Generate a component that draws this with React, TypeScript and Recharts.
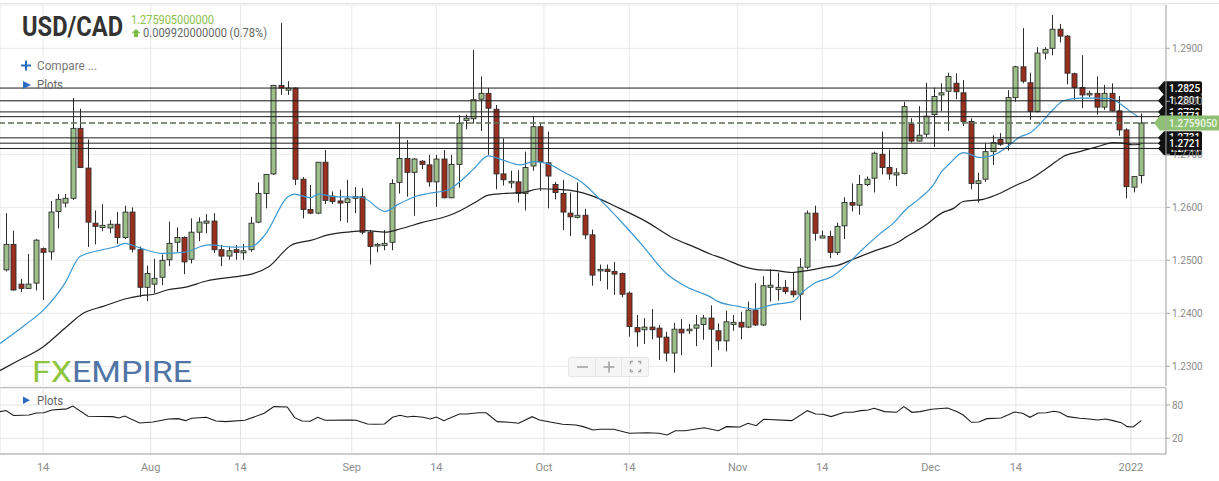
import React from 'react';
import { ComposedChart, LineChart, Bar, Line, XAxis, YAxis, CartesianGrid, ReferenceLine } from 'recharts';

// ---------- DATA ----------
const opens = [
  1.2482,1.2530,1.2455,1.2447,1.2457,1.2522,1.2516,1.2592,1.2608,1.2617,
  1.2749,1.2674,1.2570,1.2562,1.2561,1.2568,1.2543,1.2591,1.2520,1.2449,
  1.2455,1.2468,1.2501,1.2534,1.2543,1.2502,1.2553,1.2570,1.2574,1.2520,
  1.2508,1.2520,1.2514,1.2520,1.2572,1.2626,1.2663,1.2830,1.2821,1.2825,
  1.2653,1.2596,1.2589,1.2685,1.2621,1.2612,1.2609,1.2617,1.2620,1.2553,
  1.2527,1.2528,1.2534,1.2647,1.2692,1.2666,1.2687,1.2680,1.2648,1.2691,
  1.2618,1.2681,1.2764,1.2767,1.2804,1.2815,1.2785,1.2663,1.2646,1.2648,
  1.2626,1.2678,1.2752,1.2684,1.2643,1.2626,1.2589,1.2581,1.2585,1.2548,
  1.2480,1.2483,1.2479,1.2475,1.2438,1.2373,1.2369,1.2374,1.2372,1.2355,
  1.2325,1.2370,1.2367,1.2372,1.2379,1.2391,1.2367,1.2348,1.2379,1.2383,
  1.2374,1.2406,1.2378,1.2449,1.2445,1.2449,1.2442,1.2436,1.2487,1.2589,
  1.2542,1.2545,1.2515,1.2565,1.2609,1.2604,1.2643,1.2655,1.2700,1.2675,
  1.2661,1.2664,1.2757,1.2725,1.2738,1.2775,1.2812,1.2819,1.2834,1.2816,
  1.2762,1.2645,1.2653,1.2705,1.2728,1.2721,1.2807,1.2865,1.2835,1.2781,
  1.2891,1.2900,1.2936,1.2923,1.2852,1.2826,1.2812,1.2815,1.2789,1.2815,
  1.2782,1.2746,1.2638,1.2660,
];
const highs = [
  1.2589,1.2556,1.2465,1.2512,1.2540,1.2524,1.2612,1.2625,1.2625,1.2806,
  1.2786,1.2728,1.2594,1.2606,1.2576,1.2591,1.2603,1.2600,1.2526,1.2490,
  1.2503,1.2511,1.2573,1.2562,1.2545,1.2579,1.2581,1.2587,1.2589,1.2529,
  1.2526,1.2529,1.2531,1.2582,1.2647,1.2663,1.2831,1.2948,1.2838,1.2826,
  1.2657,1.2642,1.2685,1.2708,1.2630,1.2633,1.2652,1.2638,1.2636,1.2557,
  1.2533,1.2557,1.2653,1.2760,1.2727,1.2693,1.2689,1.2699,1.2699,1.2708,
  1.2699,1.2774,1.2775,1.2897,1.2847,1.2825,1.2793,1.2730,1.2669,1.2670,
  1.2705,1.2772,1.2758,1.2743,1.2648,1.2652,1.2628,1.2647,1.2597,1.2558,
  1.2492,1.2492,1.2497,1.2477,1.2441,1.2397,1.2391,1.2408,1.2378,1.2365,
  1.2382,1.2389,1.2380,1.2397,1.2397,1.2415,1.2381,1.2405,1.2397,1.2403,
  1.2422,1.2457,1.2470,1.2483,1.2477,1.2463,1.2477,1.2504,1.2594,1.2603,
  1.2556,1.2556,1.2571,1.2619,1.2645,1.2661,1.2658,1.2705,1.2743,1.2709,
  1.2674,1.2799,1.2768,1.2791,1.2835,1.2826,1.2834,1.2854,1.2853,1.2840,
  1.2768,1.2665,1.2721,1.2736,1.2740,1.2821,1.2867,1.2938,1.2854,1.2902,
  1.2902,1.2963,1.2946,1.2925,1.2854,1.2887,1.2820,1.2847,1.2831,1.2834,
  1.2810,1.2749,1.2658,1.2777,
];
const lows = [
  1.2479,1.2443,1.2440,1.2447,1.2443,1.2425,1.2501,1.2560,1.2600,1.2614,
  1.2674,1.2525,1.2530,1.2555,1.2551,1.2531,1.2540,1.2515,1.2431,1.2423,
  1.2438,1.2453,1.2489,1.2516,1.2474,1.2494,1.2536,1.2551,1.2514,1.2489,
  1.2501,1.2501,1.2501,1.2516,1.2570,1.2598,1.2661,1.2812,1.2812,1.2642,
  1.2579,1.2587,1.2587,1.2606,1.2606,1.2574,1.2571,1.2589,1.2549,1.2492,
  1.2515,1.2519,1.2519,1.2626,1.2620,1.2584,1.2672,1.2639,1.2601,1.2617,
  1.2617,1.2637,1.2747,1.2758,1.2744,1.2699,1.2634,1.2641,1.2636,1.2609,
  1.2594,1.2669,1.2631,1.2598,1.2615,1.2557,1.2546,1.2579,1.2540,1.2452,
  1.2461,1.2445,1.2435,1.2430,1.2356,1.2337,1.2342,1.2351,1.2312,1.2309,
  1.2288,1.2321,1.2361,1.2338,1.2350,1.2299,1.2331,1.2328,1.2367,1.2351,
  1.2372,1.2376,1.2376,1.2422,1.2424,1.2436,1.2430,1.2387,1.2483,1.2537,
  1.2542,1.2504,1.2510,1.2540,1.2592,1.2586,1.2640,1.2628,1.2662,1.2652,
  1.2640,1.2662,1.2722,1.2724,1.2733,1.2714,1.2781,1.2744,1.2804,1.2753,
  1.2634,1.2609,1.2648,1.2680,1.2716,1.2707,1.2799,1.2834,1.2765,1.2779,
  1.2879,1.2887,1.2911,1.2832,1.2803,1.2787,1.2808,1.2775,1.2784,1.2781,
  1.2735,1.2617,1.2628,1.2645,
];
const closes = [
  1.2530,1.2444,1.2447,1.2455,1.2538,1.2515,1.2591,1.2615,1.2617,1.2749,
  1.2675,1.2572,1.2564,1.2566,1.2568,1.2543,1.2591,1.2521,1.2449,1.2475,
  1.2466,1.2500,1.2532,1.2543,1.2497,1.2553,1.2572,1.2574,1.2520,1.2508,
  1.2518,1.2515,1.2518,1.2570,1.2626,1.2662,1.2830,1.2825,1.2825,1.2653,
  1.2596,1.2589,1.2685,1.2613,1.2611,1.2608,1.2616,1.2620,1.2553,1.2526,
  1.2530,1.2532,1.2645,1.2692,1.2666,1.2691,1.2681,1.2648,1.2691,1.2618,
  1.2681,1.2758,1.2768,1.2803,1.2815,1.2787,1.2663,1.2652,1.2649,1.2626,
  1.2675,1.2752,1.2686,1.2659,1.2628,1.2591,1.2582,1.2585,1.2548,1.2472,
  1.2483,1.2479,1.2474,1.2436,1.2375,1.2365,1.2374,1.2369,1.2355,1.2325,
  1.2370,1.2363,1.2370,1.2378,1.2391,1.2370,1.2348,1.2384,1.2383,1.2374,
  1.2406,1.2378,1.2452,1.2453,1.2449,1.2441,1.2435,1.2487,1.2589,1.2551,
  1.2546,1.2515,1.2564,1.2609,1.2604,1.2643,1.2653,1.2702,1.2675,1.2663,
  1.2665,1.2790,1.2725,1.2736,1.2772,1.2809,1.2816,1.2847,1.2818,1.2762,
  1.2645,1.2650,1.2705,1.2722,1.2719,1.2807,1.2865,1.2838,1.2781,1.2891,
  1.2898,1.2936,1.2923,1.2853,1.2826,1.2812,1.2815,1.2789,1.2815,1.2782,
  1.2746,1.2639,1.2658,1.2759,
];

// moving averages: [candle index, value]
const maFastPoints: [number, number][] = [
  [-0.81,1.2343],[2.56,1.2378],[5.03,1.2406],[7.95,1.2457],[9.97,1.2507],[12.7,1.2519],[14.9,1.2526],
  [16.0,1.2532],[18.1,1.2523],[21.0,1.2513],[23.9,1.2515],[27.3,1.2529],[30.6,1.2525],[33.1,1.2526],
  [34.9,1.2548],[38.0,1.2620],[38.9,1.2625],[41.0,1.2618],[42.1,1.2625],[44.3,1.2620],[47.9,1.2619],
  [51.1,1.2592],[52.9,1.2606],[55.1,1.2620],[56.9,1.2626],[59.6,1.2633],[61.4,1.2651],[63.0,1.2672],
  [65.0,1.2697],[67.0,1.2689],[69.3,1.2680],[71.1,1.2686],[72.9,1.2683],[75.1,1.2667],[77.8,1.2645],
  [80.1,1.2614],[82.7,1.2576],[85.9,1.2526],[89.0,1.2475],[91.7,1.2450],[94.9,1.2431],[96.0,1.2422],
  [98.7,1.2413],[100.9,1.2408],[103.2,1.2416],[106.1,1.2422],[107.2,1.2438],[109.0,1.2457],[111.3,1.2469],
  [113.5,1.2494],[115.3,1.2519],[117.6,1.2548],[119.8,1.2573],[121.2,1.2595],[122.9,1.2614],[124.8,1.2639],
  [126.2,1.2669],[127.2,1.2683],[129.0,1.2703],[131.3,1.2694],[133.5,1.2701],[134.9,1.2714],[136.7,1.2733],
  [138.0,1.2740],[139.4,1.2758],[141.1,1.2784],[142.5,1.2801],[144.7,1.2806],[147.0,1.2806],[148.8,1.2805],
  [150.1,1.2796],[151.5,1.2781],[152.6,1.2771],
];
const maSlowPoints: [number, number][] = [
  [-0.81,1.2292],[1.44,1.2309],[5.03,1.2337],[8.2,1.2375],[10.4,1.2400],[13.1,1.2413],[16.3,1.2428],
  [18.1,1.2433],[19.9,1.2436],[21.7,1.2444],[24.4,1.2450],[27.0,1.2461],[31.5,1.2470],[33.1,1.2474],
  [35.4,1.2488],[38.5,1.2529],[41.2,1.2538],[43.4,1.2548],[46.6,1.2554],[48.5,1.2556],[51.1,1.2553],
  [53.3,1.2560],[56.0,1.2571],[59.6,1.2584],[61.4,1.2595],[63.2,1.2609],[65.0,1.2623],[67.0,1.2626],
  [69.7,1.2628],[72.0,1.2635],[74.2,1.2634],[76.9,1.2630],[78.7,1.2623],[82.7,1.2598],[86.3,1.2573],
  [89.5,1.2545],[93.1,1.2523],[94.9,1.2512],[96.9,1.2502],[99.2,1.2489],[101.4,1.2482],[103.5,1.2481],
  [105.9,1.2477],[107.7,1.2480],[110.4,1.2487],[112.2,1.2491],[114.0,1.2501],[116.7,1.2516],[120.3,1.2535],
  [121.2,1.2543],[123.8,1.2565],[126.2,1.2590],[127.7,1.2598],[129.0,1.2611],[131.7,1.2615],[133.9,1.2626],
  [136.2,1.2642],[138.0,1.2653],[140.7,1.2678],[142.5,1.2696],[144.7,1.2705],[147.0,1.2714],[149.2,1.2722],
  [150.5,1.2721],[151.8,1.2718],[152.9,1.2719],
];
// RSI sub-panel: [candle index, value]
const rsiPoints: [number, number][] = [
  [-0.8,68],[0,70],[1.0,61],[3.1,62],[4.1,65.6],[5.1,66],[6.2,71],[8.2,73],[9.0,78],[11.05,59.6],
  [14.4,59],[15.2,56.6],[16.0,60],[18.0,47.6],[19.8,49.4],[21.9,54.8],[23.2,55.4],[24.2,51.8],[25.0,56],
  [27.0,57.8],[28.3,51.2],[29.6,50],[32.2,52.4],[34.8,65],[36.1,77],[37.9,76.4],[38.9,57.2],[39.9,51.2],
  [41.0,50.6],[42.0,57.8],[43.0,52.4],[46.6,53],[47.2,52.4],[48.7,45.8],[49.7,45.2],[51.0,45.8],[52.1,57.8],
  [53.1,61.4],[54.1,58.4],[54.9,59.6],[56.2,57.8],[57.2,54.8],[58.0,58.4],[59.0,51.8],[61.1,63.8],[62.1,63.8],
  [63.7,66],[64.7,66],[66.2,50],[67.8,48.8],[69.1,47],[70.9,59],[71.9,53],[73.5,48.8],[75.0,45.2],[76.8,44],
  [77.8,41],[79.1,35],[80.1,36.2],[81.9,36.2],[84.0,29],[86.4,30.1],[88.0,29],[89.1,26],[90.2,33.7],
  [91.5,33.7],[94.1,39.1],[96.0,33.7],[97.1,41],[98.9,40.4],[100.0,47],[101.1,42.7],[102.1,54.2],
  [105.9,51.8],[108.0,69.8],[109.1,63.8],[110.1,63.2],[111.2,59],[113.0,66.8],[114.1,66.8],[115.2,69.8],
  [116.2,71],[117.0,74],[118.4,68],[120.0,66.8],[121.0,77],[122.1,66.8],[123.2,68],[124.7,72.2],[126.9,74.6],
  [128.2,68],[129.0,62],[130.1,48.8],[131.1,49.4],[132.2,55.4],[134.1,56.6],[135.9,67.4],[137.0,65],
  [138.0,57.8],[139.1,65.6],[140.2,66.1],[141.2,68.6],[142.0,66.8],[143.1,59],[144.7,56],[146.0,54.8],
  [147.1,53],[148.2,54.8],[149.2,51.8],[150.3,48.2],[151.1,41],[151.9,40.4],[153.0,51.8],
];

const dateTickIdx = [5.0, 19.5, 31.6, 46.6, 58.0, 72.5, 84.0, 98.6, 110.0, 124.6, 136.1, 151.6];
const dateTickLabels = ['14', 'Aug', '14', 'Sep', '14', 'Oct', '14', 'Nov', '14', 'Dec', '14', '2022'];
const priceTicks = [1.23, 1.24, 1.25, 1.26, 1.27, 1.28, 1.29];
const rsiTicks = [20, 80];

// horizontal levels (drawn in this order)
const levelValues = [1.2711, 1.2731, 1.2721, 1.2825, 1.2801, 1.2780, 1.2771];
const levelLabels = ['1.2711', '1.2731', '1.2721', '1.2825', '1.2801', '1.2780', '1.2771'];
const lastPrice = 1.275905;
const lastPriceLabel = '1.2759050';

const title = 'USD/CAD';
const priceText = '1.275905000000';
const changeText = '0.009920000000 (0.78%)';

// ---------- DERIVED ----------
const rows = opens.map((o, k) => ({
  i: k, o, h: highs[k], l: lows[k], c: closes[k], range: [lows[k], highs[k]],
}));
const maFastData = maFastPoints.map(([i, v]) => ({ i, v }));
const maSlowData = maSlowPoints.map(([i, v]) => ({ i, v }));
const rsiData = rsiPoints.map(([i, v]) => ({ i, v }));

const X_DOMAIN: [number, number] = [-0.8086, 156.33];
const Y_DOMAIN: [number, number] = [1.226283, 1.29817];
const RSI_DOMAIN: [number, number] = [-8.3, 110.6];

const FONT = 'Roboto, "Liberation Sans", Arial, sans-serif';

const fmtDate = (v: number) => {
  const k = dateTickIdx.findIndex((t) => Math.abs(t - v) < 0.01);
  return k >= 0 ? dateTickLabels[k] : '';
};

const Candle = (props: any) => {
  const { x, y, width, height, payload } = props;
  if (x == null || y == null || !payload) return null;
  const { o, h, l, c } = payload;
  const top = Math.min(y, y + height);
  const hh = Math.abs(height);
  const k = h > l ? hh / (h - l) : 0;
  const yOf = (p: number) => top + (h - p) * k;
  const bTop = yOf(Math.max(o, c));
  const bBot = yOf(Math.min(o, c));
  const cx = Math.round(x + width / 2) + 0.5;
  const up = c >= o;
  return (
    <g>
      <line x1={cx} x2={cx} y1={top} y2={top + hh} stroke="#2e2e2e" strokeWidth={1} />
      <rect
        x={cx - 2.5}
        y={bTop}
        width={5}
        height={Math.max(bBot - bTop, 1.5)}
        fill={up ? '#9dbf89' : '#9b2f1d'}
        stroke="#2e2e2e"
        strokeWidth={0.9}
      />
    </g>
  );
};

const LevelTag = (props: any) => {
  const { viewBox, text, green } = props;
  if (!viewBox) return null;
  const y = viewBox.y;
  const right = viewBox.x + viewBox.width;
  const tip = right - (green ? 12 : 8);
  const hh = green ? 7.5 : 6.7;
  const end = green ? right + 70 : right + 36;
  const fill = green ? '#8fc175' : '#111111';
  const d = `M${tip},${y} L${tip + 6},${y - hh} L${end - 2},${y - hh} Q${end},${y - hh} ${end},${y - hh + 2} L${end},${y + hh - 2} Q${end},${y + hh} ${end - 2},${y + hh} L${tip + 6},${y + hh} Z`;
  return (
    <g>
      <path d={d} fill={fill} />
      <text x={right + 3} y={y + 3.6} fontSize={10} fontFamily={FONT} fontWeight={500} fill={green ? '#eef7e8' : '#ffffff'}>
        {text}
      </text>
    </g>
  );
};

export default function App() {
  return (
    <div style={{ position: 'absolute', left: 0, top: 0, width: 1219, height: 481, background: '#fff', overflow: 'hidden', fontFamily: FONT }}>
      {/* frame lines */}
      <div style={{ position: 'absolute', left: 0, top: 3, width: 1219, height: 1, background: '#e2e2e2' }} />
      <div style={{ position: 'absolute', left: 0, top: 387, width: 1166, height: 1, background: '#b9b9b9' }} />

      {/* main price chart */}
      <div style={{ position: 'absolute', left: 0, top: 0 }}>
        <ComposedChart width={1219} height={386} data={rows} margin={{ top: 5, right: 0, bottom: 0, left: 0 }}>
          <CartesianGrid stroke="#e9e9e9" />
          <XAxis type="number" dataKey="i" domain={X_DOMAIN} allowDataOverflow ticks={dateTickIdx} hide />
          <YAxis
            orientation="right"
            width={53}
            domain={Y_DOMAIN}
            allowDataOverflow
            ticks={priceTicks}
            tickFormatter={(v: number) => v.toFixed(4)}
            tick={{ fontSize: 10, fill: '#8c8c8c', fontFamily: FONT }}
            axisLine={{ stroke: '#a8a8a8' }}
            tickLine={{ stroke: '#a8a8a8' }}
            tickSize={4}
            tickMargin={2}
          />
          <Bar dataKey="range" barSize={5} shape={<Candle />} isAnimationActive={false} />
          <Line data={maSlowData} dataKey="v" type="monotone" stroke="#222222" strokeWidth={1.2} dot={false} isAnimationActive={false} />
          <Line data={maFastData} dataKey="v" type="monotone" stroke="#3b97d3" strokeWidth={1.2} dot={false} isAnimationActive={false} />
          {levelValues.map((v, k) => (
            <ReferenceLine key={'lv' + k} y={v} stroke="#1e1e1e" strokeWidth={1} label={<LevelTag text={levelLabels[k]} />} />
          ))}
          <ReferenceLine y={lastPrice} stroke="#5f6f58" strokeWidth={1.3} strokeDasharray="6 3" label={<LevelTag text={lastPriceLabel} green />} />
        </ComposedChart>
      </div>

      {/* RSI sub-panel */}
      <div style={{ position: 'absolute', left: 0, top: 388 }}>
        <LineChart width={1219} height={93} data={rsiData} margin={{ top: 0, right: 0, bottom: 0, left: 0 }}>
          <CartesianGrid stroke="#e3e3e3" />
          <XAxis
            type="number"
            dataKey="i"
            domain={X_DOMAIN}
            allowDataOverflow
            ticks={dateTickIdx}
            interval={0}
            tickFormatter={fmtDate}
            height={27}
            tick={{ fontSize: 11, fill: '#8c8c8c', fontFamily: FONT }}
            axisLine={{ stroke: '#a8a8a8' }}
            tickLine={false}
            tickSize={6}
            tickMargin={3}
          />
          <YAxis
            orientation="right"
            width={53}
            domain={RSI_DOMAIN}
            allowDataOverflow
            ticks={rsiTicks}
            tick={{ fontSize: 10, fill: '#8c8c8c', fontFamily: FONT }}
            axisLine={{ stroke: '#a8a8a8' }}
            tickLine={{ stroke: '#a8a8a8' }}
            tickSize={4}
            tickMargin={2}
          />
          <Line dataKey="v" type="linear" stroke="#1c1c1c" strokeWidth={1.1} dot={false} isAnimationActive={false} />
        </LineChart>
      </div>

      {/* header, watermark and controls */}
      <svg width={1219} height={481} style={{ position: 'absolute', left: 0, top: 0, pointerEvents: 'none' }}>
        <text x={22} y={36} fontSize={27} fontWeight={700} fill="#333" fontFamily={FONT} textLength={101} lengthAdjust="spacingAndGlyphs">{title}</text>
        <text x={131} y={23.5} fontSize={12} fill="#8cc14c" fontFamily={FONT} textLength={83} lengthAdjust="spacingAndGlyphs">{priceText}</text>
        <path d="M136,29 L140.5,33.2 L138,33.2 L138,37 L134,37 L134,33.2 L131.5,33.2 Z" fill="#7dbb44" />
        <text x={143} y={36.5} fontSize={12} fill="#666" fontFamily={FONT} textLength={124} lengthAdjust="spacingAndGlyphs">{changeText}</text>

        <path d="M21,65.5 L31,65.5 M26,60.5 L26,70.5" stroke="#2a6cc2" strokeWidth={2} />
        <text x={37} y={70} fontSize={12.5} fill="#777" fontFamily={FONT} textLength={60} lengthAdjust="spacingAndGlyphs">Compare ...</text>
        <path d="M23,81 L31,85 L23,89 Z" fill="#2a6cc2" />
        <text x={37} y={89} fontSize={12.5} fill="#666" fontFamily={FONT} textLength={26} lengthAdjust="spacingAndGlyphs">Plots</text>

        <path d="M23,396.5 L30,400.2 L23,404 Z" fill="#2a6cc2" />
        <text x={37} y={404.5} fontSize={12} fill="#666" fontFamily={FONT} textLength={26} lengthAdjust="spacingAndGlyphs">Plots</text>

        <text x={32} y={382} fontSize={30} fontWeight={400} fill="#8dc540" fontFamily={FONT} textLength={40} lengthAdjust="spacingAndGlyphs">FX</text>
        <text x={72} y={382} fontSize={30} fontWeight={400} fill="#5075a6" fontFamily={FONT} textLength={120} lengthAdjust="spacingAndGlyphs">EMPIRE</text>

        <g opacity={0.9}>
          <rect x={568.5} y={357.5} width={80} height={19} rx={2} fill="#f5f5f5" stroke="#e4e4e4" />
          <line x1={595.5} x2={595.5} y1={358} y2={376} stroke="#e4e4e4" />
          <line x1={621.5} x2={621.5} y1={358} y2={376} stroke="#e4e4e4" />
          <line x1={577} x2={588} y1={367} y2={367} stroke="#9a9a9a" strokeWidth={1.6} />
          <line x1={603.5} x2={614.5} y1={367} y2={367} stroke="#9a9a9a" strokeWidth={1.6} />
          <line x1={609} x2={609} y1={361.5} y2={372.5} stroke="#9a9a9a" strokeWidth={1.6} />
          <path d="M630.5,364 L630.5,361.5 L633,361.5 M638,361.5 L640.5,361.5 L640.5,364 M640.5,369 L640.5,371.5 L638,371.5 M633,371.5 L630.5,371.5 L630.5,369" stroke="#9a9a9a" strokeWidth={1.4} fill="none" />
        </g>
      </svg>
    </div>
  );
}
